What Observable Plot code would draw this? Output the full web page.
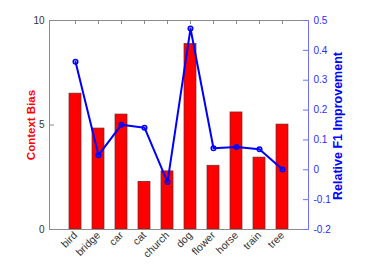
<!DOCTYPE html>
<html><head><meta charset="utf-8">
<script src="https://cdn.jsdelivr.net/npm/d3@7"></script>
<script src="https://cdn.jsdelivr.net/npm/@observablehq/plot@0.6"></script>
<style>
body{margin:0;background:#fff;}
#chart{position:relative;width:374px;height:280px;}
#chart svg{position:absolute;left:0;top:0;background:transparent;}
</style></head><body><div id="chart"></div>
<script>
const categories = ["bird","bridge","car","cat","church","dog","flower","horse","train","tree"];
const contextBias = [6.5,4.83,5.5,2.28,2.78,8.87,3.05,5.6,3.44,5.02];
const f1Improvement = [0.362,0.049,0.151,0.141,-0.041,0.473,0.072,0.076,0.069,0.001];
const biasTicks = [0,5,10];
const f1Ticks = [-0.2,-0.1,0,0.1,0.2,0.3,0.4,0.5];

const W=374,H=280, mL=49, mR=66, mT=20, mB=51;
const innerW = W-mL-mR, innerH = H-mT-mB;
const font = "'Liberation Sans', Arial, Helvetica, sans-serif";
const rows = categories.map((c,i)=>({c, bias: contextBias[i], f1: f1Improvement[i]}));
const xOpts = {type:"band", domain: categories, paddingInner: 0.49, paddingOuter: 0.745, axis:null};
const base = {width:W, height:H, marginLeft:mL, marginRight:mR, marginTop:mT, marginBottom:mB,
  style:{fontFamily:font, background:"transparent", overflow:"visible"}};

const p1 = Plot.plot({...base,
  x: xOpts,
  y: {domain:[0,10], axis:null},
  marks: [
    Plot.barY(rows, {x:"c", y:"bias", fill:"#ff0000", stroke:"#6a2a2a", strokeWidth:0.7}),
    Plot.frame({stroke:"#8c8c8c"}),
    Plot.ruleY(biasTicks, {insetRight: innerW-5, stroke:"#8c8c8c"}),
    Plot.ruleX(categories, {x: d=>d, insetBottom: innerH-4, stroke:"#8c8c8c"}),
    Plot.axisY(biasTicks, {tickSize:0, tickPadding:5, fill:"#333", fontSize:10, label:null}),
    Plot.axisX({tickSize:0, tickPadding:4, tickRotate:-45, fill:"#333", fontSize:10.5, label:null}),
    Plot.text(["Context Bias"], {frameAnchor:"left", textAnchor:"middle", dx:-18, rotate:-90, fill:"#ff0000", fontWeight:"bold", fontSize:11.5})
  ]
});
const p2 = Plot.plot({...base,
  x: xOpts,
  y: {domain:[-0.2,0.5], axis:null},
  marks: [
    Plot.frame({fill:"#7070ff", stroke:"none", insetLeft: innerW-0.5, insetRight:-0.5}),
    Plot.ruleY(f1Ticks, {insetLeft: innerW-5, stroke:"#7070ff"}),
    Plot.axisY(f1Ticks, {anchor:"right", tickSize:0, tickPadding:5, fill:"#2b2bff", fontSize:10, label:null,
      tickFormat: d => d===0 ? "0" : String(d)}),
    Plot.line(rows, {x:"c", y:"f1", stroke:"#0000ff", strokeWidth:2}),
    Plot.dot(rows, {x:"c", y:"f1", r:2.3, stroke:"#0000ff", strokeWidth:1.5, fill:"none"}),
    Plot.text(["Relative F1 Improvement"], {frameAnchor:"right", textAnchor:"middle", dx:29, dy:1, rotate:-90, fill:"#0000ff", fontWeight:"bold", fontSize:12.5})
  ]
});
document.getElementById("chart").append(p1, p2);
</script></body></html>
